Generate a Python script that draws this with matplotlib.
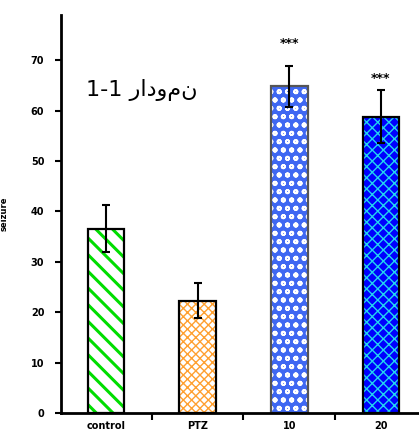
import matplotlib
matplotlib.use('Agg')
import matplotlib.pyplot as plt

# data
groups = ['control', 'PTZ', '10', '20']
means = [36.6, 22.3, 64.8, 58.8]
errors = [4.6, 3.5, 4.0, 5.2]
stars = ['', '', '***', '***']
star_gap = [0, 0, 4.6, 2.4]
yticks = [0, 10, 20, 30, 40, 50, 60, 70]

faces = ['white', 'white', '#3f68f2', '#0000ff']
hatch_cols = ['#00dd00', '#ffa030', 'white', '#22d4f0']
hatches = ['\\\\', 'xxxx', 'oo', 'xxx']
hatch_lws = [2.2, 1.0, 1.3, 1.0]
outline = ['black', 'black', '#555555', 'black']

fig = plt.figure(figsize=(4.19, 4.37), dpi=100)
ax = fig.add_axes([0.1456, 0.0549, 0.8544, 0.911])

x = list(range(len(groups)))
for i in x:
    plt.rcParams['hatch.linewidth'] = hatch_lws[i]
    # hatched fill, hatch colour taken from edgecolor
    ax.bar(i, means[i], width=0.4, color=faces[i], edgecolor=hatch_cols[i],
           hatch=hatches[i], linewidth=0)
    # outline on top
    ax.bar(i, means[i], width=0.4, fill=False, edgecolor=outline[i], linewidth=1.6)

ax.errorbar(x, means, yerr=errors, fmt='none', ecolor='black',
            elinewidth=1.5, capsize=3, capthick=1.5)

for i in x:
    if stars[i]:
        ax.text(i, means[i] + errors[i] + star_gap[i], stars[i], ha='center',
                va='center', fontsize=9, fontweight='bold')

ax.set_xlim(-0.49, 3.415)
ax.set_ylim(0, 79)
ax.set_yticks(yticks)
ax.set_yticklabels([str(t) for t in yticks], fontsize=7, fontweight='bold')
ax.set_xticks(x)
ax.set_xticklabels(groups, fontsize=7, fontweight='bold')
ax.set_xticks([0.5, 1.5, 2.5], minor=True)
ax.tick_params(axis='x', which='major', length=0, pad=6)
ax.tick_params(axis='x', which='minor', length=5, width=1.5)
ax.tick_params(axis='y', length=4, width=1.5, pad=8)

for s in ['top', 'right']:
    ax.spines[s].set_visible(False)
for s in ['left', 'bottom']:
    ax.spines[s].set_linewidth(2)

ax.set_ylabel('seizure', fontsize=6, fontweight='bold', labelpad=16)

ax.text(0.39, 64.0, '1-1 \u0631\u0627\u062f\u0648\u0645\u0646', fontsize=16,
        ha='center', va='center', family='DejaVu Sans',
        bbox=dict(facecolor='white', edgecolor='none', pad=12))

fig.savefig('out.png', dpi=100)
